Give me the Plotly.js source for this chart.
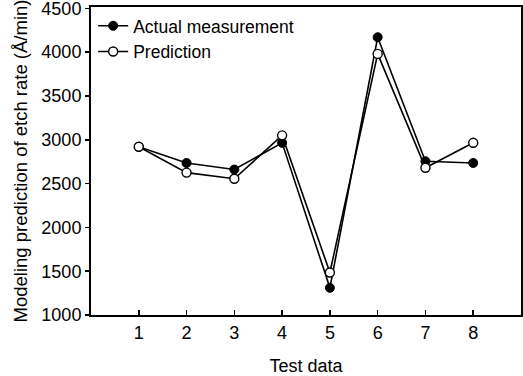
<!DOCTYPE html>
<html><head><meta charset="utf-8">
<script src="https://cdn.plot.ly/plotly-3.0.1.min.js"></script>
<style>html,body{margin:0;padding:0;background:#fff}</style>
</head><body><div id="plot" style="width:523px;height:376px"></div>
<script>
const testData = [1, 2, 3, 4, 5, 6, 7, 8];
const actual = [2920, 2735, 2660, 2965, 1310, 4170, 2755, 2735];
const prediction = [2920, 2625, 2555, 3050, 1485, 3980, 2680, 2965];
const yTicks = [1000, 1500, 2000, 2500, 3000, 3500, 4000, 4500];

const font = {family: 'Liberation Sans, Arial, sans-serif', color: '#000'};
const traces = [
  {x: testData, y: actual, name: 'Actual measurement', mode: 'lines+markers',
   line: {color: '#000', width: 1.6},
   marker: {symbol: 'circle', size: 9, color: '#000', line: {color: '#000', width: 1}}},
  {x: testData, y: prediction, name: 'Prediction', mode: 'lines+markers',
   line: {color: '#000', width: 1.6},
   marker: {symbol: 'circle', size: 9, color: '#fff', line: {color: '#000', width: 1.4}}}
];
const layout = {
  width: 523, height: 376,
  margin: {l: 91, r: 2, t: 7, b: 61},
  paper_bgcolor: '#fff', plot_bgcolor: '#fff',
  font: Object.assign({size: 18}, font),
  showlegend: true,
  legend: {x: 0.005, y: 0.997, xanchor: 'left', yanchor: 'top', bgcolor: 'rgba(0,0,0,0)',
           font: Object.assign({size: 17.5}, font), itemwidth: 30, tracegroupgap: 0},
  xaxis: {range: [0, 9], tickvals: testData, ticktext: testData.map(String),
          ticks: 'inside', ticklen: 5, tickcolor: '#000', tickwidth: 1.5,
          showline: true, linecolor: '#000', linewidth: 2, mirror: true,
          showgrid: false, zeroline: false,
          tickfont: Object.assign({size: 18}, font),
          title: {text: 'Test data', font: Object.assign({size: 18}, font), standoff: 18}},
  yaxis: {range: [1000, 4515], tickvals: yTicks, ticktext: yTicks.map(String),
          ticks: 'outside', ticklen: 4, tickcolor: '#000', tickwidth: 1.5,
          ticklabeloverflow: 'allow',
          showline: true, linecolor: '#000', linewidth: 2, mirror: true,
          showgrid: false, zeroline: false,
          tickfont: Object.assign({size: 18}, font),
          title: {text: 'Modeling prediction of etch rate (Å/min)', font: Object.assign({size: 18.5}, font), standoff: 9}}
};
Plotly.newPlot('plot', traces, layout, {displayModeBar: false, staticPlot: true});
</script></body></html>
